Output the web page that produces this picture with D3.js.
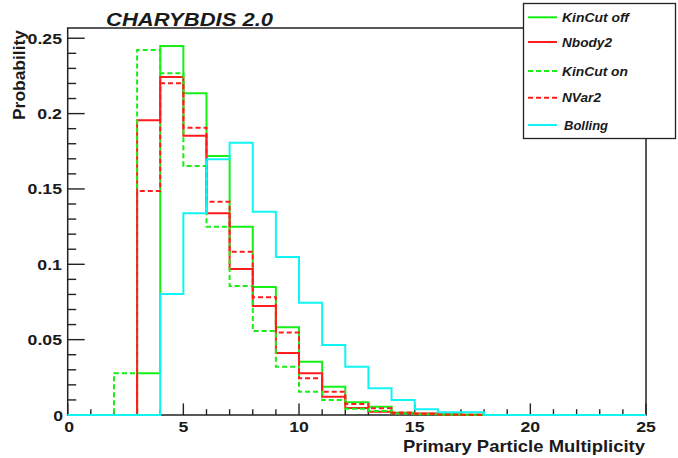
<!DOCTYPE html>
<html><head><meta charset="utf-8">
<script src="https://cdn.jsdelivr.net/npm/d3@7"></script>
<style>
html,body{margin:0;padding:0;background:#fff;}
svg{display:block;}
text{font-family:"Liberation Sans",Arial,Helvetica,sans-serif;font-weight:bold;fill:#1a1a1a;}
</style></head>
<body>
<script>
// bins: lower edges 0..24, width 1
const binEdges = d3.range(0, 26);
const kinCutOff = [0,0,0,0.0277,0.2449,0.2135,0.1719,0.1249,0.0849,0.0582,0.0354,0.0188,0.0084,0.0055,0.0015,0.0008,0.0003,0,0,0,0,0,0,0,0];
const nbody2    = [0,0,0,0.1956,0.2243,0.1853,0.1338,0.0969,0.0723,0.0411,0.0277,0.0121,0.0046,0.0022,0.0012,0.0010,0.0003,0.0002,0,0,0,0,0,0,0];
const kinCutOn  = [0,0,0.0277,0.2422,0.2267,0.1652,0.1249,0.0856,0.0557,0.0321,0.0155,0.0100,0.0042,0.0027,0.0010,0.0005,0.0003,0.0002,0,0,0,0,0,0,0];
const nvar2     = [0,0,0,0.1486,0.2201,0.1906,0.1415,0.1084,0.0781,0.0547,0.0244,0.0155,0.0073,0.0044,0.0016,0.0008,0.0004,0.0002,0,0,0,0,0,0,0];
const bolling   = [0,0,0,0,0.0803,0.1338,0.1697,0.1807,0.1349,0.1048,0.0745,0.0464,0.0321,0.0177,0.0100,0.0038,0.0018,0.0018,0,0,0,0,0,0,0];
const seriesNames = ["KinCut off","Nbody2","KinCut on","NVar2","Bolling"];
const seriesColors = ["#16f016","#ff1c1c","#16f016","#ff1c1c","#10f4f4"];
const seriesDash = [null,null,"5,3","5,3",null];
const seriesData = [kinCutOff, nbody2, kinCutOn, nvar2, bolling];
const xTicks = [0,5,10,15,20,25];
const yTicks = [0,0.05,0.1,0.15,0.2,0.25];
const yTickLabels = ["0","0.05","0.1","0.15","0.2","0.25"];
const title = "CHARYBDIS 2.0";
const xTitle = "Primary Particle Multiplicity";
const yTitle = "Probability";

const W = 678, H = 458;
const L = 67.7, R = 646, T = 28, B = 415;
const svg = d3.select("body").append("svg").attr("width", W).attr("height", H);

const x = d3.scaleLinear().domain([0, 25]).range([L, R]);
const y = d3.scaleLinear().domain([0, 0.2568]).range([B, T]);

// ticks
const g = svg.append("g");
// y ticks
d3.range(0, 0.2561, 0.01).forEach((v, i) => {
  const major = i % 5 === 0;
  g.append("line").attr("x1", L).attr("x2", L + (major ? 17 : 8.5))
    .attr("y1", y(v)).attr("y2", y(v)).attr("stroke", "#222").attr("stroke-width", 1.4);
});
// x ticks
d3.range(0, 26, 1).forEach((v) => {
  const major = v % 5 === 0;
  g.append("line").attr("x1", x(v)).attr("x2", x(v))
    .attr("y1", B).attr("y2", B - (major ? 11.6 : 5.8)).attr("stroke", "#222").attr("stroke-width", 1.4);
});

// frame
svg.append("rect").attr("x", L).attr("y", T).attr("width", R - L).attr("height", B - T)
  .attr("fill", "none").attr("stroke", "#222").attr("stroke-width", 1.5);

// histograms
const line = d3.line().x(d => d[0]).y(d => d[1]);
seriesData.forEach((arr, s) => {
  const pts = [[x(0), y(0)]];
  arr.forEach((v, i) => { pts.push([x(binEdges[i]), y(v)]); pts.push([x(binEdges[i + 1]), y(v)]); });
  pts.push([x(25), y(0)]);
  const p = svg.append("path").attr("d", line(pts)).attr("fill", "none")
    .attr("stroke", seriesColors[s]).attr("stroke-width", 2);
  if (seriesDash[s]) p.attr("stroke-dasharray", seriesDash[s]);
});

function stretch(sel, f) {
  sel.each(function () {
    const len = this.getComputedTextLength();
    d3.select(this).attr("textLength", len * f).attr("lengthAdjust", "spacingAndGlyphs");
  });
}

// y tick labels
yTicks.forEach((v, i) => {
  const t = svg.append("text").attr("x", i === 0 ? 63 : 62).attr("y", y(v) + 5.5)
    .attr("text-anchor", "end").attr("font-size", 14.5).text(yTickLabels[i]);
  stretch(t, 1.22);
});
// x tick labels
xTicks.forEach((v) => {
  const t = svg.append("text").attr("x", x(v) + (v === 0 ? 1.5 : 0)).attr("y", 432)
    .attr("text-anchor", "middle").attr("font-size", 14.5).text(v);
  stretch(t, 1.22);
});

// axis titles
svg.append("text").attr("x", 645).attr("y", 451.5).attr("text-anchor", "end")
  .attr("font-size", 16.5).attr("textLength", 242).attr("lengthAdjust", "spacingAndGlyphs").text(xTitle);
svg.append("text").attr("transform", "translate(25,30) rotate(-90)").attr("text-anchor", "end")
  .attr("font-size", 16.5).attr("textLength", 90).attr("lengthAdjust", "spacingAndGlyphs").text(yTitle);

// title
svg.append("text").attr("x", 106).attr("y", 26).attr("font-size", 18.5).attr("font-style", "italic")
  .attr("textLength", 167).attr("lengthAdjust", "spacingAndGlyphs").text(title);

// legend
const lg = svg.append("g");
lg.append("rect").attr("x", 523.5).attr("y", 3.5).attr("width", 152).attr("height", 135)
  .attr("fill", "#fff").attr("stroke", "#222").attr("stroke-width", 1.3);
const legY = [17.3, 42, 71, 97.7, 125];
const legLen = [67, 50, 66, 39, 44];
const legX = [562, 562, 562, 562, 564];
seriesNames.forEach((n, i) => {
  const l = lg.append("line").attr("x1", 528).attr("x2", 557).attr("y1", legY[i]).attr("y2", legY[i])
    .attr("stroke", seriesColors[i]).attr("stroke-width", 2);
  if (seriesDash[i]) l.attr("stroke-dasharray", seriesDash[i]);
  lg.append("text").attr("x", legX[i]).attr("y", legY[i] + 4.5).attr("font-size", 12.5)
    .attr("font-style", "italic").attr("textLength", legLen[i]).attr("lengthAdjust", "spacingAndGlyphs").text(n);
});
</script>
</body></html>
